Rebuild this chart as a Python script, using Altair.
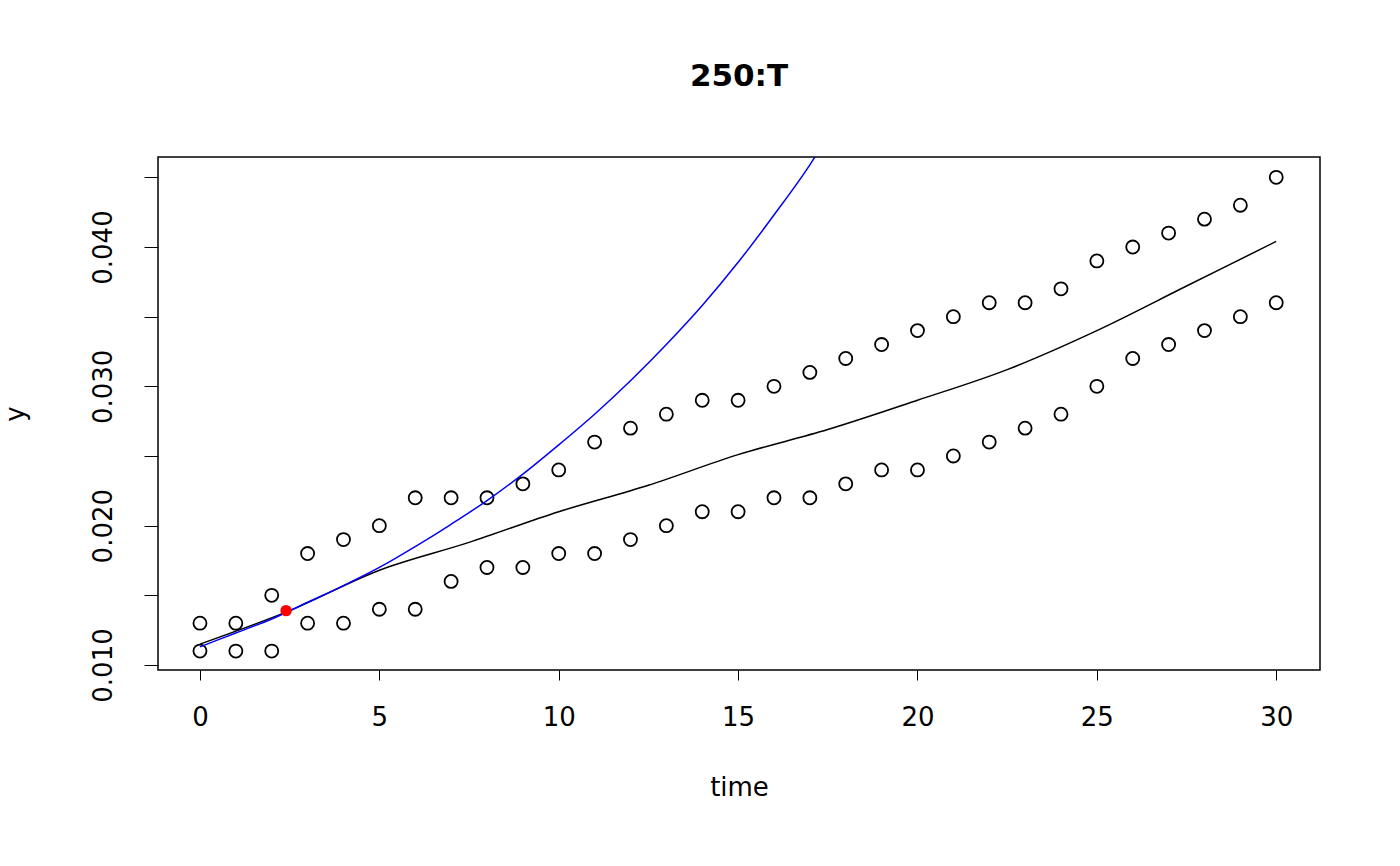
import altair as alt
import pandas as pd

t = list(range(31))
upper = [0.013, 0.013, 0.015, 0.018, 0.019, 0.020, 0.022, 0.022, 0.022, 0.023, 0.024,
         0.026, 0.027, 0.028, 0.029, 0.029, 0.030, 0.031, 0.032, 0.033, 0.034,
         0.035, 0.036, 0.036, 0.037, 0.039, 0.040, 0.041, 0.042, 0.043, 0.045]
lower = [0.011, 0.011, 0.011, 0.013, 0.013, 0.014, 0.014, 0.016, 0.017, 0.017, 0.018,
         0.018, 0.019, 0.020, 0.021, 0.021, 0.022, 0.022, 0.023, 0.024, 0.024,
         0.025, 0.026, 0.027, 0.028, 0.030, 0.032, 0.033, 0.034, 0.035, 0.036]

smooth_t = [0, 2.5, 5, 7.5, 10, 12.5, 15, 17.5, 20, 22.5, 25, 27.5, 30]
smooth_y = [0.0115, 0.0139, 0.0168, 0.0188, 0.0210, 0.0229, 0.0251, 0.0269, 0.0290,
            0.0312, 0.0340, 0.0372, 0.0404]

blue_t = [0, 1, 2, 3, 4, 5, 6, 7, 8, 9, 10, 11, 12, 13, 14, 15, 16, 17, 17.2]
blue_y = [0.0113, 0.0123, 0.0133, 0.0145, 0.0157, 0.0170, 0.0185, 0.0201, 0.0218,
          0.0237, 0.0258, 0.0280, 0.0304, 0.0330, 0.0358, 0.0389, 0.0423, 0.0459, 0.0467]

red_t = [2.4]
red_y = [0.0139]

font = "DejaVu Sans"
pts = pd.DataFrame({"time": t * 2, "y": upper + lower})
sm = pd.DataFrame({"time": smooth_t, "y": smooth_y})
bl = pd.DataFrame({"time": blue_t, "y": blue_y})
rd = pd.DataFrame({"time": red_t, "y": red_y})

xs = alt.Scale(domain=[-1.17, 31.22], nice=False, zero=False)
ys = alt.Scale(domain=[0.00964, 0.04646], nice=False, zero=False)
xax = alt.Axis(values=[0, 5, 10, 15, 20, 25, 30], domain=False, grid=False, tickSize=10,
               tickColor="black", labelFontSize=26, labelPadding=24, titleFontSize=26,
               titlePadding=44, labelColor="black", titleColor="black", titleFontWeight="normal")
yax = alt.Axis(values=[0.010, 0.015, 0.020, 0.025, 0.030, 0.035, 0.040, 0.045], format=".3f",
               labelExpr="(round(datum.value*1000) % 10 == 0) ? datum.label : ''",
               domain=False, grid=False, tickSize=14, tickColor="black", labelAngle=-90,
               labelAlign="center", labelBaseline="bottom", labelFontSize=26, labelPadding=28,
               titleFontSize=26, titlePadding=62, labelColor="black", titleColor="black",
               titleFontWeight="normal")

X = alt.X("time:Q", scale=xs, axis=xax, title="time")
Y = alt.Y("y:Q", scale=ys, axis=yax, title="y")

points = alt.Chart(pts).mark_point(shape="circle", size=170, color="black", strokeWidth=1.8,
                                   filled=False, opacity=1).encode(x=X, y=Y)
smooth = alt.Chart(sm).mark_line(color="black", strokeWidth=1.5, interpolate="monotone").encode(x=X, y=Y)
blue = alt.Chart(bl).mark_line(color="blue", strokeWidth=1.5, clip=True,
                               interpolate="monotone").encode(x=X, y=Y)
red = alt.Chart(rd).mark_point(shape="circle", size=130, color="red", filled=True,
                               opacity=1).encode(x=X, y=Y)

chart = alt.layer(points, smooth, blue, red).properties(
    width=1162, height=513,
    title=alt.TitleParams("250:T", fontSize=31, font=font, fontWeight="bold", offset=64),
    autosize=alt.AutoSizeParams(type="none"),
    padding={"left": 150, "top": 149, "right": 72, "bottom": 188},
).configure(font=font).configure_view(stroke="black", strokeWidth=1.5)

chart.save("out.html", embed_options={"renderer": "svg", "actions": False})
